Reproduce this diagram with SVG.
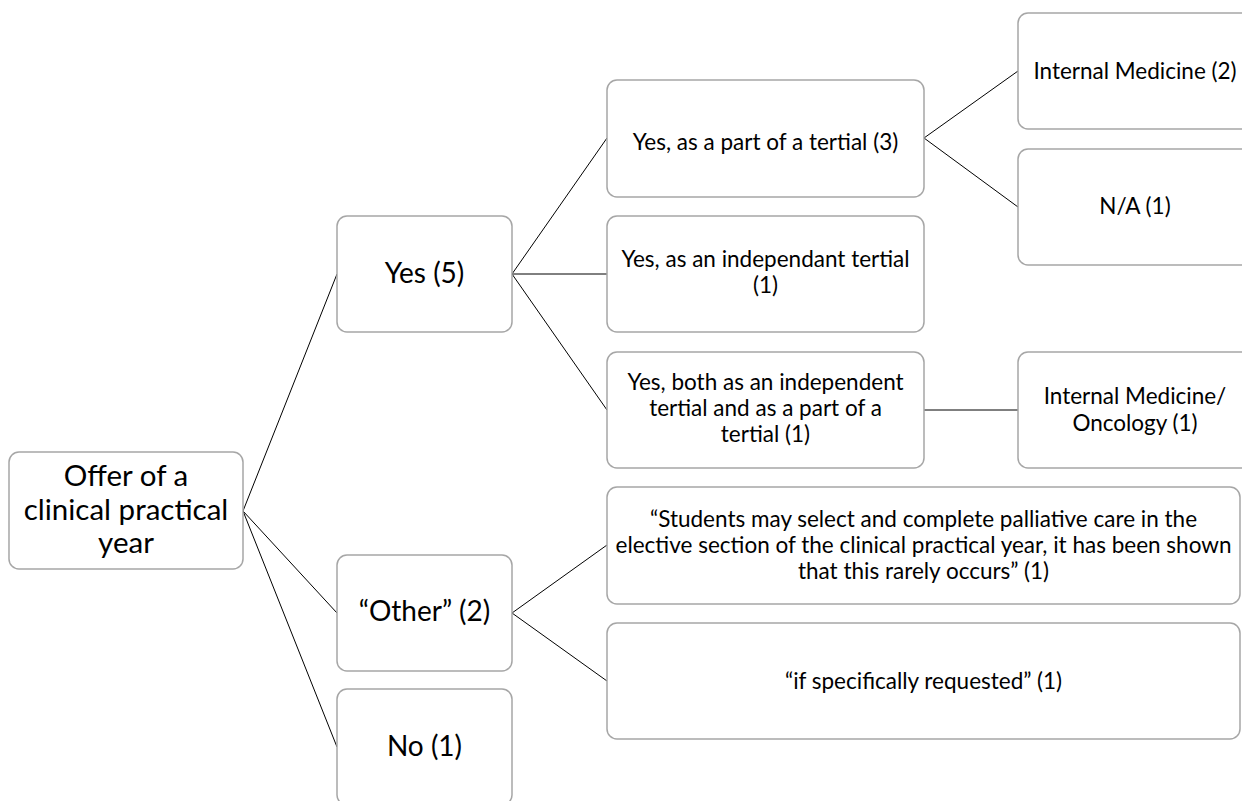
<svg xmlns="http://www.w3.org/2000/svg" width="1242" height="801" viewBox="0 0 1242 801">
<style>
.box{fill:#ffffff;stroke:#a6a6a6;stroke-width:1.5}
.t{font-family:Lato,"Open Sans",sans-serif;fill:#000;text-anchor:middle}
.s{font-size:22.5px}
.m{font-size:28px}
.c{stroke:#000;stroke-width:1;fill:none}
</style>
<rect width="1242" height="801" fill="#ffffff"/>
<g id="connectors">
<line class="c" x1="243" y1="511" x2="337" y2="274"/>
<line class="c" x1="243" y1="511" x2="337" y2="613"/>
<line class="c" x1="243" y1="511" x2="337" y2="747"/>
<line class="c" x1="512" y1="274" x2="607" y2="138"/>
<line class="c" x1="512" y1="274" x2="607" y2="274"/>
<line class="c" x1="512" y1="274" x2="607" y2="410"/>
<line class="c" x1="924" y1="138" x2="1018" y2="71"/>
<line class="c" x1="924" y1="138" x2="1018" y2="207"/>
<line class="c" x1="924" y1="410" x2="1018" y2="410"/>
<line class="c" x1="512" y1="613" x2="607" y2="545"/>
<line class="c" x1="512" y1="613" x2="607" y2="681"/>
</g>
<g id="root">
<rect class="box" x="9" y="452" width="234" height="117" rx="10"/>
<text class="t" x="126" y="486" font-size="29.5">Offer of a</text>
<text class="t" x="126" y="520" font-size="29.5">clinical practical</text>
<text class="t" x="126" y="553" font-size="29.5">year</text>
</g>
<g id="yes">
<rect class="box" x="337" y="216" width="175" height="116" rx="10"/>
<text class="t m" x="424.5" y="283">Yes (5)</text>
</g>
<g id="other">
<rect class="box" x="337" y="555" width="175" height="116" rx="10"/>
<text class="t m" x="424.5" y="621">“Other” (2)</text>
</g>
<g id="no">
<rect class="box" x="337" y="689" width="175" height="116" rx="10"/>
<text class="t m" x="424.5" y="756">No (1)</text>
</g>
<g id="part">
<rect class="box" x="607" y="80" width="317" height="117" rx="10"/>
<text class="t s" x="765.5" y="150">Yes, as a part of a tertial (3)</text>
</g>
<g id="independant">
<rect class="box" x="607" y="216" width="317" height="116" rx="10"/>
<text class="t s" x="765.5" y="267">Yes, as an independant tertial</text>
<text class="t s" x="765.5" y="293">(1)</text>
</g>
<g id="both">
<rect class="box" x="607" y="352" width="317" height="116" rx="10"/>
<text class="t s" x="765.5" y="390">Yes, both as an independent</text>
<text class="t s" x="765.5" y="416">tertial and as a part of a</text>
<text class="t s" x="765.5" y="442">tertial (1)</text>
</g>
<g id="students">
<rect class="box" x="607" y="487" width="633" height="117" rx="10"/>
<text class="t s" x="923.5" y="527">“Students may select and complete palliative care in the</text>
<text class="t s" x="923.5" y="553">elective section of the clinical practical year, it has been shown</text>
<text class="t s" x="923.5" y="579">that this rarely occurs” (1)</text>
</g>
<g id="requested">
<rect class="box" x="607" y="623" width="633" height="116" rx="10"/>
<text class="t s" x="923.5" y="689">“if specifically requested” (1)</text>
</g>
<g id="internal">
<rect class="box" x="1018" y="13" width="234" height="116" rx="10"/>
<text class="t s" x="1135" y="79">Internal Medicine (2)</text>
</g>
<g id="na">
<rect class="box" x="1018" y="149" width="234" height="116" rx="10"/>
<text class="t s" x="1135" y="214">N/A (1)</text>
</g>
<g id="oncology">
<rect class="box" x="1018" y="352" width="234" height="116" rx="10"/>
<text class="t s" x="1135" y="404">Internal Medicine/</text>
<text class="t s" x="1135" y="431">Oncology (1)</text>
</g>
</svg>
